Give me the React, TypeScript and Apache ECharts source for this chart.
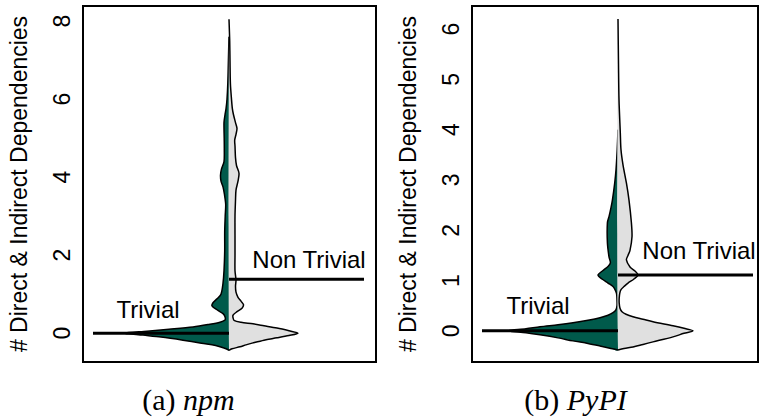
import React, { useEffect, useRef } from "react";
import * as echarts from "echarts";

// ---- Data ----
const npmTicks = [0, 2, 4, 6, 8];
const pypiTicks = [0, 1, 2, 3, 4, 5, 6];
const groupNames = ["Trivial", "Non Trivial"];
const yTitle = "# Direct & Indirect Dependencies";
const captionTags = ["(a)", "(b)"];
const captionNames = ["npm", "PyPI"];

// npm: trivial (left half) density profile
const npmTrivialY = [-0.44, -0.4, -0.35, -0.3, -0.25, -0.18, -0.1, -0.05, 0, 0.05, 0.1, 0.16, 0.22, 0.28, 0.34, 0.42, 0.5, 0.6, 0.7, 0.78, 0.88, 1.0, 1.28, 1.6, 2.1, 2.6, 3.0, 3.3, 3.55, 3.75, 3.9, 4.05, 4.2, 4.4, 4.7, 5.0, 5.4, 5.6, 5.75, 6.0, 6.4, 7.0, 7.6];
const npmTrivialW = [0, 3, 9, 17, 29, 46, 68, 86, 104, 82, 60, 36, 21, 9, 4, 4, 6, 12, 17, 16, 12, 8, 6, 5, 4.3, 4.3, 3.8, 3.3, 4.5, 6, 8, 8.5, 7.6, 5, 4.7, 4.8, 5, 4, 3, 2, 1.2, 0.6, 0];
// npm: non-trivial (right half)
const npmNonTrivialY = [-0.44, -0.4, -0.35, -0.3, -0.25, -0.18, -0.12, -0.06, 0, 0.06, 0.13, 0.19, 0.24, 0.28, 0.33, 0.4, 0.46, 0.55, 0.64, 0.73, 0.82, 0.92, 1.05, 1.2, 1.36, 1.6, 2.0, 2.5, 3.0, 3.4, 3.67, 3.9, 4.1, 4.3, 4.5, 4.8, 4.95, 5.1, 5.25, 5.4, 5.6, 5.75, 6.0, 6.4, 7.0, 7.5, 8.05];
const npmNonTrivialW = [0, 3, 11, 17, 24, 35, 48, 60, 69, 60, 48, 35, 24, 12, 5, 4, 4, 8, 13, 14.5, 12, 9, 7, 6.5, 7, 6, 6, 6, 6, 6.5, 7, 9, 10, 7.5, 6.5, 6, 5.7, 7, 8, 6.5, 4.5, 3.4, 2.5, 1.4, 1, 0.7, 0];
// PyPI: trivial (left half)
const pypiTrivialY = [-0.38, -0.35, -0.3, -0.25, -0.2, -0.14, -0.08, -0.04, 0, 0.04, 0.08, 0.12, 0.16, 0.21, 0.26, 0.31, 0.36, 0.42, 0.5, 0.6, 0.7, 0.75, 0.82, 0.88, 0.95, 1.03, 1.11, 1.2, 1.28, 1.35, 1.47, 1.75, 2.15, 2.27, 2.45, 2.6, 2.94, 3.2, 3.6, 4.0];
const pypiTrivialW = [0, 7, 18, 30, 45, 60, 78, 92, 110, 92, 78, 60, 45, 30, 18, 10, 5, 2, 1, 1, 1.2, 1.6, 3, 5, 10, 16, 20, 15, 10, 7.6, 9, 10.6, 10.6, 9, 7, 5.6, 3.3, 2, 0.8, 0];
// PyPI: non-trivial (right half)
const pypiNonTrivialY = [-0.38, -0.35, -0.32, -0.27, -0.22, -0.12, -0.05, 0, 0.05, 0.1, 0.18, 0.23, 0.28, 0.33, 0.38, 0.45, 0.55, 0.65, 0.75, 0.82, 0.88, 0.95, 1.03, 1.11, 1.19, 1.27, 1.41, 1.5, 1.6, 1.87, 2.15, 2.6, 2.94, 3.3, 3.6, 3.94, 4.6, 5.3, 6.2];
const pypiNonTrivialW = [0, 6, 15, 25, 35, 55, 66, 75, 66, 55, 35, 25, 15, 8, 4, 2, 1.2, 1.2, 1.8, 3, 6, 10, 16, 20, 17, 12, 8.4, 10, 12, 14, 13.4, 11, 8.4, 5, 3, 2.3, 1, 0.5, 0];

// Reference lines (level per group) and their horizontal reach
const npmLineLevels = [0, 1.38];
const pypiLineLevels = [0, 1.11];
const lineReach = [-136, 135];
// Annotation anchors [x, y] per group
const npmLabelPos = [[-81, 0.6], [80, 1.88]];
const pypiLabelPos = [[-80, 0.51], [81, 1.6]];

const GREEN = "#005a4b";
const GREY = "#e0e0e0";
const SANS = "Liberation Sans, Arial, Helvetica, sans-serif";
const SERIF = "Liberation Serif, Times New Roman, serif";
const X_EXT = [[-146, 147], [-146, 140]];
const TICK_LEN = 16; // x-axis units are 1px each

function halfViolin(ys: number[], ws: number[], side: number, color: string, idx: number) {
  const data = ys.map((y, i) => [side * ws[i], y]);
  return {
    type: "custom",
    xAxisIndex: idx,
    yAxisIndex: idx,
    silent: true,
    z: 2,
    data,
    renderItem: (params: any, api: any) => {
      if (params.dataIndex !== 0) return null;
      const pts = data.map((d) => api.coord(d));
      return {
        type: "group",
        children: [
          { type: "polygon", shape: { points: pts, smooth: 0.3 }, style: { fill: color, stroke: "none" } },
          { type: "polyline", shape: { points: pts, smooth: 0.3 }, style: { stroke: "#000", lineWidth: 1.5, fill: "none" } },
        ],
      };
    },
  };
}

function tickSeries(ticks: number[], idx: number) {
  const xMin = X_EXT[idx][0];
  return ticks.map((v) => ({
    type: "line",
    xAxisIndex: idx,
    yAxisIndex: idx,
    silent: true,
    clip: false,
    z: 10,
    symbol: "none",
    lineStyle: { color: "#000", width: 1.5 },
    data: [[xMin - TICK_LEN, v], [xMin, v]],
  }));
}

function refLines(levels: number[], idx: number) {
  return levels.map((lv, g) => ({
    type: "line",
    xAxisIndex: idx,
    yAxisIndex: idx,
    silent: true,
    z: 5,
    symbol: "none",
    lineStyle: { color: "#000", width: 3 },
    data: [[lineReach[g], lv], [0, lv]],
  }));
}

function labels(pos: number[][], idx: number) {
  return {
    type: "scatter",
    xAxisIndex: idx,
    yAxisIndex: idx,
    silent: true,
    z: 6,
    symbolSize: 0,
    itemStyle: { opacity: 1 },
    data: pos.map((p, g) => ({ value: p, name: groupNames[g] })),
    label: {
      show: true,
      position: "inside",
      formatter: "{b}",
      color: "#000",
      opacity: 1,
      fontSize: 24,
      fontFamily: SANS,
    },
  };
}

function yAxisDef(min: number, max: number, ticks: number[], idx: number) {
  return {
    type: "value",
    gridIndex: idx,
    position: "left",
    min,
    max,
    splitLine: { show: false },
    axisLine: { show: true, onZero: false, lineStyle: { color: "#000", width: 2 } },
    axisTick: { show: false },
    axisLabel: {
      show: true,
      customValues: ticks,
      rotate: 90,
      margin: 10,
      color: "#000",
      fontSize: 23,
      fontFamily: SANS,
    },
    name: yTitle,
    nameLocation: "middle",
    nameRotate: 90,
    nameGap: 53,
    nameTextStyle: { color: "#000", fontSize: 23, fontFamily: SANS },
  };
}

function caption(i: number, x: number) {
  return {
    type: "text",
    x,
    y: 399,
    style: {
      text: `{u|${captionTags[i]}\u00a0}{i|${captionNames[i]}}`,
      align: "center",
      verticalAlign: "middle",
      rich: {
        u: { fontFamily: SERIF, fontSize: 30, fill: "#000" },
        i: { fontFamily: SERIF, fontSize: 30, fontStyle: "italic", fill: "#000" },
      },
    },
  };
}

export default function App() {
  const ref = useRef<HTMLDivElement>(null);
  useEffect(() => {
    if (!ref.current) return;
    const chart = echarts.init(ref.current, null, { renderer: "svg" });
    const gridCommon = { show: true, borderColor: "#000", borderWidth: 2, backgroundColor: "transparent", containLabel: false, outerBoundsMode: "none" };
    chart.setOption({
      animation: false,
      backgroundColor: "#fff",
      grid: [
        { ...gridCommon, left: 83, top: 6, width: 293, height: 356 },
        { ...gridCommon, left: 472, top: 6, width: 286, height: 356 },
      ],
      xAxis: [
        { type: "value", gridIndex: 0, min: X_EXT[0][0], max: X_EXT[0][1], show: false },
        { type: "value", gridIndex: 1, min: X_EXT[1][0], max: X_EXT[1][1], show: false },
      ],
      yAxis: [
        yAxisDef(-0.74, 8.39, npmTicks, 0),
        yAxisDef(-0.62, 6.46, pypiTicks, 1),
      ],
      series: [
        halfViolin(npmTrivialY, npmTrivialW, -1, GREEN, 0),
        halfViolin(npmNonTrivialY, npmNonTrivialW, 1, GREY, 0),
        halfViolin(pypiTrivialY, pypiTrivialW, -1, GREEN, 1),
        halfViolin(pypiNonTrivialY, pypiNonTrivialW, 1, GREY, 1),
        ...tickSeries(npmTicks, 0),
        ...tickSeries(pypiTicks, 1),
        ...refLines(npmLineLevels, 0),
        ...refLines(pypiLineLevels, 1),
        labels(npmLabelPos, 0),
        labels(pypiLabelPos, 1),
      ],
      graphic: [caption(0, 188.5), caption(1, 575.5)],
    });
    return () => chart.dispose();
  }, []);
  return (
    <div
      ref={ref}
      style={{ position: "absolute", left: 0, top: 0, width: 759, height: 417 }}
    />
  );
}
